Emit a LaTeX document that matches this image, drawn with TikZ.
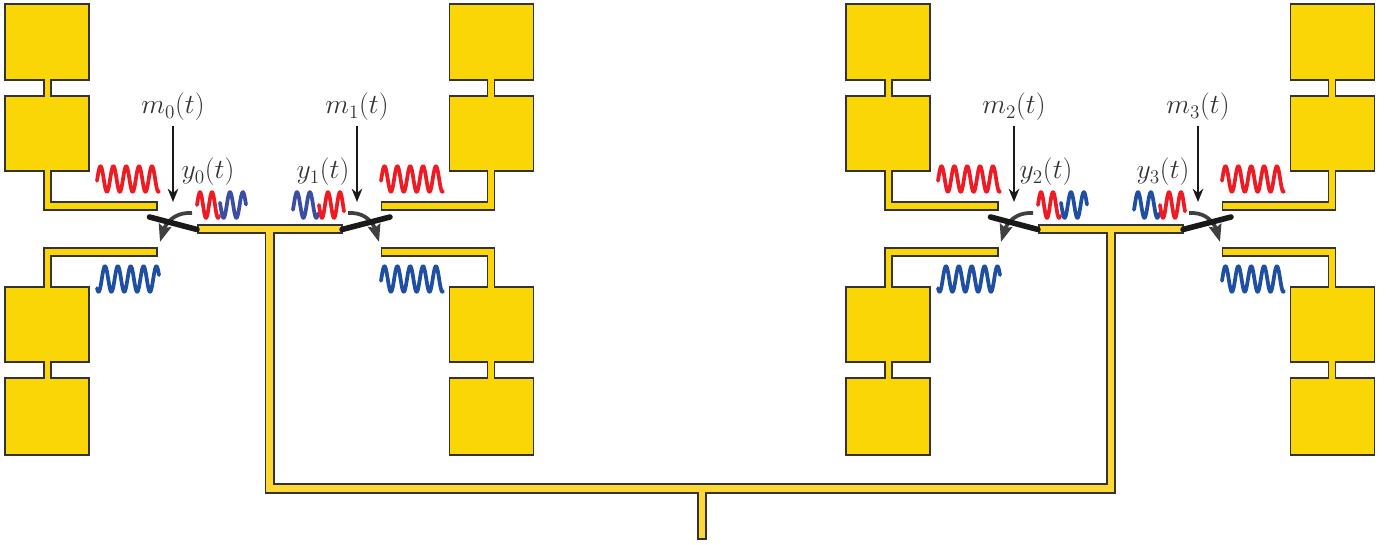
\documentclass[tikz,border=0pt]{standalone}
\usepackage{xcolor}
\usepackage{amsmath}
\usepackage{tikz}
\usetikzlibrary{arrows.meta,bending}
\definecolor{padyellow}{HTML}{FBD606}
\definecolor{feedyellow}{HTML}{FFD733}
\definecolor{edgegray}{HTML}{333333}
\definecolor{wavered}{HTML}{ED1C24}
\definecolor{waveblue}{HTML}{1F4FA3}
\definecolor{mixblue}{HTML}{3A4FA3}
\tikzset{>=stealth,
    pad/.style={draw=edgegray, fill=padyellow, line width=1.4pt, line join=miter},
    feed/.style={draw=edgegray, fill=feedyellow, line width=1.2pt, line join=miter},
    wave/.style={line width=2.8pt, samples=150, line cap=round, line join=round},
    lbl/.style={text=black!80, font=\huge, inner sep=3.5pt},
    msgarrow/.style={line width=1.4pt, black!90, -{Stealth[length=10pt,width=8pt]}},
    turnarrow/.style={line width=2.8pt, black!75, -{Stealth[length=13pt,width=9.5pt,inset=2pt,flex=1]}},
    switcharm/.style={line width=4.2pt, black!90, line cap=round}
}
\begin{document}
\begin{tikzpicture}[x=0.75pt,y=-0.75pt]
    \useasboundingbox (0,0) rectangle (1390,544);

    % feed network
    \draw[feed](198,225)--(342,225)--(342,233)--(274,233)--(274,484)--(1107,484)--(1107,233)--(1039,233)--(1039,225)--(1183,225)--(1183,233)--(1115,233)--(1115,493)--(706,493)--(706,539)--(698,539)--(698,493)--(265.5,493)--(265.5,233)--(198,233)--cycle;

    % patches
    \draw[pad](5,4)--(89,4)--(89,80)--(51,80)--(51,96)--(89,96)--(89,171)--(51,171)--(51,202)--(157,202)--(157,210)--(44,210)--(44,171)--(5,171)--(5,96)--(44,96)--(44,80)--(5,80)--cycle;
    \draw[pad](157,248)--(157,256)--(51,256)--(51,287)--(89,287)--(89,362)--(51,362)--(51,378)--(89,378)--(89,455)--(5,455)--(5,378)--(44,378)--(44,362)--(5,362)--(5,287)--(44,287)--(44,248)--cycle;
    \draw[pad](533.5,4)--(449.5,4)--(449.5,80)--(487.5,80)--(487.5,96)--(449.5,96)--(449.5,171)--(487.5,171)--(487.5,202)--(381.5,202)--(381.5,210)--(494.5,210)--(494.5,171)--(533.5,171)--(533.5,96)--(494.5,96)--(494.5,80)--(533.5,80)--cycle;
    \draw[pad](381.5,248)--(381.5,256)--(487.5,256)--(487.5,287)--(449.5,287)--(449.5,362)--(487.5,362)--(487.5,378)--(449.5,378)--(449.5,455)--(533.5,455)--(533.5,378)--(494.5,378)--(494.5,362)--(533.5,362)--(533.5,287)--(494.5,287)--(494.5,248)--cycle;
    \draw[pad](846,4)--(930,4)--(930,80)--(892,80)--(892,96)--(930,96)--(930,171)--(892,171)--(892,202)--(998,202)--(998,210)--(885,210)--(885,171)--(846,171)--(846,96)--(885,96)--(885,80)--(846,80)--cycle;
    \draw[pad](998,248)--(998,256)--(892,256)--(892,287)--(930,287)--(930,362)--(892,362)--(892,378)--(930,378)--(930,455)--(846,455)--(846,378)--(885,378)--(885,362)--(846,362)--(846,287)--(885,287)--(885,248)--cycle;
    \draw[pad](1374.5,4)--(1290.5,4)--(1290.5,80)--(1328.5,80)--(1328.5,96)--(1290.5,96)--(1290.5,171)--(1328.5,171)--(1328.5,202)--(1222.5,202)--(1222.5,210)--(1335.5,210)--(1335.5,171)--(1374.5,171)--(1374.5,96)--(1335.5,96)--(1335.5,80)--(1374.5,80)--cycle;
    \draw[pad](1222.5,248)--(1222.5,256)--(1328.5,256)--(1328.5,287)--(1290.5,287)--(1290.5,362)--(1328.5,362)--(1328.5,378)--(1290.5,378)--(1290.5,455)--(1374.5,455)--(1374.5,378)--(1335.5,378)--(1335.5,362)--(1374.5,362)--(1374.5,287)--(1335.5,287)--(1335.5,248)--cycle;

    % waves above and below the lines
    \draw[wave,wavered,domain=97:159] plot (\x,{179-12.8*cos(28*(\x-100.5))});
    \draw[wave,wavered,domain=381:443] plot (\x,{179-12.8*cos(28*(\x-384.5))});
    \draw[wave,wavered,domain=938:1000] plot (\x,{179-12.8*cos(28*(\x-941.5))});
    \draw[wave,wavered,domain=1222:1284] plot (\x,{179-12.8*cos(28*(\x-1225.5))});
    \draw[wave,waveblue,domain=97:159] plot (\x,{279-12.8*cos(28*(\x-105))});
    \draw[wave,waveblue,domain=381:443] plot (\x,{279-12.8*cos(28*(\x-384.5))});
    \draw[wave,waveblue,domain=938:1000] plot (\x,{279-12.8*cos(28*(\x-946))});
    \draw[wave,waveblue,domain=1222:1284] plot (\x,{279-12.8*cos(28*(\x-1225.5))});

    % reflected waves
    \draw[wave,wavered,domain=197:219] plot (\x,{205-12.8*cos(30*(\x-200))});
    \draw[wave,mixblue,domain=220:246] plot (\x,{205-12.8*cos(28*(\x-230))});
    \draw[wave,mixblue,domain=293:318] plot (\x,{205-12.8*cos(28*(\x-297))});
    \draw[wave,wavered,domain=319:344] plot (\x,{205-12.8*cos(30*(\x-328))});
    \draw[wave,wavered,domain=1038:1060] plot (\x,{205-12.8*cos(30*(\x-1041))});
    \draw[wave,waveblue,domain=1061:1087] plot (\x,{205-12.8*cos(28*(\x-1071))});
    \draw[wave,waveblue,domain=1134:1159] plot (\x,{205-12.8*cos(28*(\x-1138))});
    \draw[wave,wavered,domain=1160:1185] plot (\x,{205-12.8*cos(30*(\x-1169))});

    % curved arrows
    \coordinate (ta0) at (192,213);
    \coordinate (tb0) at (160,242);
    \coordinate (ta1) at (348,213);
    \coordinate (tb1) at (379,242);
    \coordinate (ta2) at (1033,213);
    \coordinate (tb2) at (1001,242);
    \coordinate (ta3) at (1189,213);
    \coordinate (tb3) at (1220,242);
    \draw[turnarrow](ta0) .. controls (175,212) and (163,222) .. (tb0);
    \draw[turnarrow](ta1) .. controls (365,212) and (376,222) .. (tb1);
    \draw[turnarrow](ta2) .. controls (1016,212) and (1004,222) .. (tb2);
    \draw[turnarrow](ta3) .. controls (1206,212) and (1217,222) .. (tb3);

    % switches
    \coordinate (sa0) at (197,229.5);
    \coordinate (sb0) at (149.5,217);
    \coordinate (sa1) at (342,229.5);
    \coordinate (sb1) at (390,217);
    \coordinate (sa2) at (1038,229.5);
    \coordinate (sb2) at (990.5,217);
    \coordinate (sa3) at (1183,229.5);
    \coordinate (sb3) at (1231,217);
    \draw[switcharm](sa0)--(sb0);
    \draw[switcharm](sa1)--(sb1);
    \draw[switcharm](sa2)--(sb2);
    \draw[switcharm](sa3)--(sb3);

    % labels
    \node[lbl] at (173,107) (m0) {$m_0(t)$};
    \node[lbl] at (357,107) (m1) {$m_1(t)$};
    \node[lbl] at (1014,107) (m2) {$m_2(t)$};
    \node[lbl] at (1198,107) (m3) {$m_3(t)$};
    \node[lbl] at (208,172) (y0) {$y_0(t)$};
    \node[lbl] at (323,172) (y1) {$y_1(t)$};
    \node[lbl] at (1046,172) (y2) {$y_2(t)$};
    \node[lbl] at (1163,172) (y3) {$y_3(t)$};
    \coordinate (me0) at (173,202);
    \coordinate (me1) at (357,202);
    \coordinate (me2) at (1014,202);
    \coordinate (me3) at (1198,202);
    \draw[msgarrow](m0)--(me0);
    \draw[msgarrow](m1)--(me1);
    \draw[msgarrow](m2)--(me2);
    \draw[msgarrow](m3)--(me3);
\end{tikzpicture}
\end{document}
